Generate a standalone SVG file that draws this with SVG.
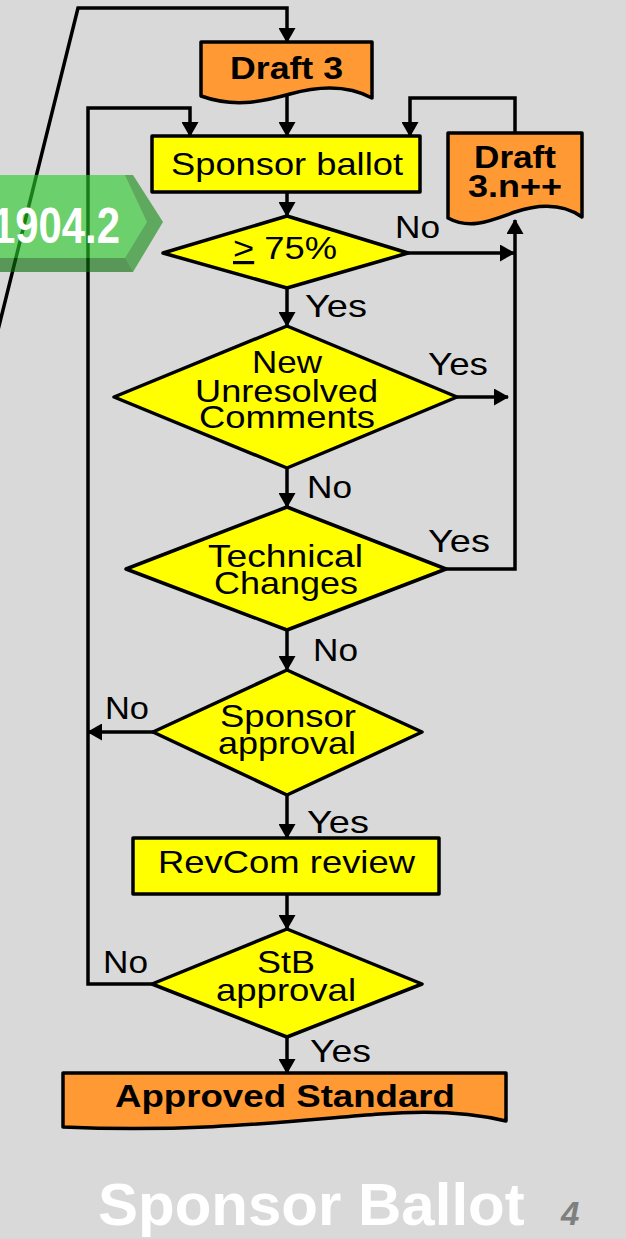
<svg xmlns="http://www.w3.org/2000/svg" width="626" height="1239" viewBox="0 0 626 1239">
<defs>
<marker id="ah" viewBox="0 0 15 17" markerWidth="15" markerHeight="17" refX="14" refY="8.5" orient="auto" markerUnits="userSpaceOnUse">
<path d="M0,0 L15,8.5 L0,17 Z" fill="#000"/>
</marker>
<style>
.ln{fill:none;stroke:#000;stroke-width:3.5;stroke-linejoin:miter}
.ar{marker-end:url(#ah)}
.yel{fill:#FFFF00;stroke:#000;stroke-width:3.5;stroke-linejoin:round}
.org{fill:#FF9933;stroke:#000;stroke-width:3.5;stroke-linejoin:round}
.t{font-family:"Liberation Sans",Arial,sans-serif;font-size:32px;fill:#000}
.b{font-weight:bold}
</style>
</defs>
<rect x="0" y="0" width="626" height="1239" fill="#D9D9D9"/>

<g id="connectors">
<path class="ln ar" d="M-2,330 L78,8 L287,8 L287,42"/>
<path class="ln ar" d="M287,95 L287,136"/>
<path class="ln ar" d="M152,984 L88,984 L88,108 L190,108 L190,136"/>
<path class="ln ar" d="M515,133 L515,98 L410,98 L410,136"/>
<path class="ln ar" d="M287,192 L287,216"/>
<path class="ln ar" d="M408,253 L514,253"/>
<path class="ln ar" d="M446,569 L515,569 L515,220"/>
<path class="ln ar" d="M287,288 L287,326"/>
<path class="ln ar" d="M457,397 L508,397"/>
<path class="ln ar" d="M287,468 L287,507"/>
<path class="ln ar" d="M287,630 L287,670"/>
<path class="ln ar" d="M153,732 L88,732"/>
<path class="ln ar" d="M287,795 L287,838"/>
<path class="ln ar" d="M287,894 L287,929"/>
<path class="ln ar" d="M287,1037 L287,1073"/>
</g>

<g id="labels">
<text class="t" x="395" y="238" textLength="45" lengthAdjust="spacingAndGlyphs">No</text>
<text class="t" x="305" y="317" textLength="62" lengthAdjust="spacingAndGlyphs">Yes</text>
<text class="t" x="428" y="375" textLength="60" lengthAdjust="spacingAndGlyphs">Yes</text>
<text class="t" x="307" y="498" textLength="45" lengthAdjust="spacingAndGlyphs">No</text>
<text class="t" x="428" y="552" textLength="62" lengthAdjust="spacingAndGlyphs">Yes</text>
<text class="t" x="313" y="661" textLength="45" lengthAdjust="spacingAndGlyphs">No</text>
<text class="t" x="105" y="719" textLength="44" lengthAdjust="spacingAndGlyphs">No</text>
<text class="t" x="307" y="833" textLength="62" lengthAdjust="spacingAndGlyphs">Yes</text>
<text class="t" x="103" y="973" textLength="45" lengthAdjust="spacingAndGlyphs">No</text>
<text class="t" x="310" y="1062" textLength="61" lengthAdjust="spacingAndGlyphs">Yes</text>
</g>

<g id="draft3">
<path class="org" d="M201,42 H372 V98 C350,86 322,85 290,94 C258,103 232,107 201,96 Z"/>
<text class="t b" x="230" y="79" textLength="113" lengthAdjust="spacingAndGlyphs">Draft 3</text>
</g>

<g id="sponsor-ballot">
<rect class="yel" x="152" y="136" width="268" height="56"/>
<text class="t" x="171" y="175" textLength="232" lengthAdjust="spacingAndGlyphs">Sponsor ballot</text>
</g>

<g id="draft3n">
<path class="org" d="M448,133 H582 V217 C565,205 542,203 515,212 C490,221 470,230 448,218 Z"/>
<text class="t b" x="474" y="168" textLength="82" lengthAdjust="spacingAndGlyphs">Draft</text>
<text class="t b" x="468" y="197" textLength="94" lengthAdjust="spacingAndGlyphs">3.n++</text>
</g>

<g id="d-75">
<polygon class="yel" points="287,216 408,253 287,288 163,253"/>
<text class="t" x="233" y="259" textLength="104" lengthAdjust="spacingAndGlyphs"><tspan text-decoration="underline">&gt;</tspan> 75%</text>
</g>

<g id="d-new-unresolved">
<polygon class="yel" points="287,326 457,397 287,468 114,397"/>
<text class="t" x="252" y="373" textLength="70" lengthAdjust="spacingAndGlyphs">New</text>
<text class="t" x="195" y="402" textLength="183" lengthAdjust="spacingAndGlyphs">Unresolved</text>
<text class="t" x="199" y="428" textLength="176" lengthAdjust="spacingAndGlyphs">Comments</text>
</g>

<g id="d-technical">
<polygon class="yel" points="287,507 446,569 287,630 126,569"/>
<text class="t" x="208" y="567" textLength="155" lengthAdjust="spacingAndGlyphs">Technical</text>
<text class="t" x="214" y="594" textLength="144" lengthAdjust="spacingAndGlyphs">Changes</text>
</g>

<g id="d-sponsor-approval">
<polygon class="yel" points="287,670 422,732 287,795 153,732"/>
<text class="t" x="220" y="727" textLength="136" lengthAdjust="spacingAndGlyphs">Sponsor</text>
<text class="t" x="218" y="754" textLength="138" lengthAdjust="spacingAndGlyphs">approval</text>
</g>

<g id="revcom">
<rect class="yel" x="133" y="838" width="306" height="56"/>
<text class="t" x="158" y="873" textLength="257" lengthAdjust="spacingAndGlyphs">RevCom review</text>
</g>

<g id="d-stb">
<polygon class="yel" points="287,929 422,984 287,1037 152,984"/>
<text class="t" x="257" y="973" textLength="58" lengthAdjust="spacingAndGlyphs">StB</text>
<text class="t" x="216" y="1001" textLength="140" lengthAdjust="spacingAndGlyphs">approval</text>
</g>

<g id="approved">
<path class="org" d="M63,1073 H506 V1121 C470,1112 430,1110 380,1114 C300,1120 200,1133 63,1127 Z"/>
<text class="t b" x="115" y="1107" textLength="340" lengthAdjust="spacingAndGlyphs">Approved Standard</text>
</g>

<g id="banner">
<g opacity="0.62">
<polygon points="-10,175 133,175 163,222 133,272 -10,272" fill="#158C15"/>
<polygon points="-10,175 125,175 147,222 125,258 -10,258" fill="#2ACB2A"/>
<polygon points="-10,258 125,258 133,272 -10,272" fill="#0A700A"/>
</g>
<text x="-8" y="243" textLength="128" lengthAdjust="spacingAndGlyphs" style="font-family:'Liberation Sans',Arial,sans-serif;font-size:50px;font-weight:bold;fill:#FFFFFF">1904.2</text>
</g>

<g id="footer">
<text x="98" y="1225" style="font-family:'Liberation Sans',Arial,sans-serif;font-size:60px;font-weight:bold;fill:#FFFFFF">Sponsor Ballot</text>
<text x="561" y="1225" style="font-family:'Liberation Sans',Arial,sans-serif;font-size:33px;font-weight:bold;font-style:italic;fill:#7F7F7F">4</text>
</g>
</svg>
